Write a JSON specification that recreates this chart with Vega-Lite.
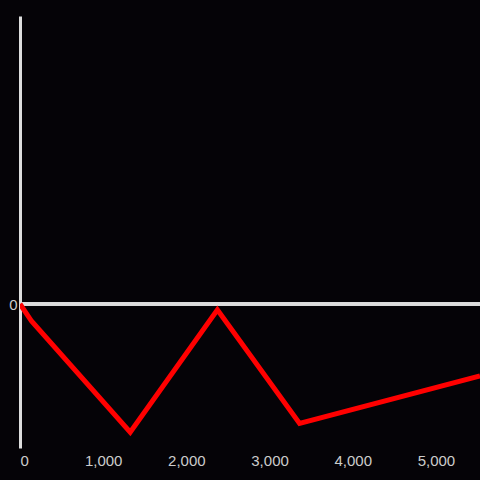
{
  "$schema": "https://vega.github.io/schema/vega-lite/v6.json",
  "width": 460,
  "height": 432,
  "autosize": {"type": "none"},
  "padding": {"left": 20, "top": 16, "right": 0, "bottom": 32},
  "background": "#050307",
  "config": {"view": {"stroke": null}},
  "data": {"values": [
    {"x": 0, "y": 0},
    {"x": 140, "y": -0.12},
    {"x": 1325, "y": -0.89},
    {"x": 2373, "y": -0.04},
    {"x": 3361, "y": -0.83},
    {"x": 5530, "y": -0.5}
  ]},
  "layer": [
    {
      "mark": {"type": "rule", "color": "#dddddd", "strokeWidth": 3},
      "encoding": {"y": {"datum": 0, "type": "quantitative", "scale": {"domain": [-1, 2]}}}
    },
    {
      "mark": {"type": "line", "color": "#ff0000", "strokeWidth": 5, "clip": true},
      "encoding": {
        "x": {"field": "x", "type": "quantitative", "scale": {"domain": [0, 5530], "nice": false},
          "axis": {"title": null, "values": [0, 1000, 2000, 3000, 4000, 5000], "domain": false, "ticks": false, "grid": false, "labelColor": "#cccccc", "labelFontSize": 15, "labelPadding": 5, "labelFont": "Liberation Sans", "format": ",d"}},
        "y": {"field": "y", "type": "quantitative", "scale": {"domain": [-1, 2], "nice": false},
          "axis": {"title": null, "values": [0], "format": "d", "domain": true, "domainColor": "#dddddd", "domainWidth": 3, "ticks": false, "grid": false, "labelColor": "#cccccc", "labelFontSize": 15, "labelPadding": 3, "labelFont": "Liberation Sans"}}
      }
    }
  ]
}
